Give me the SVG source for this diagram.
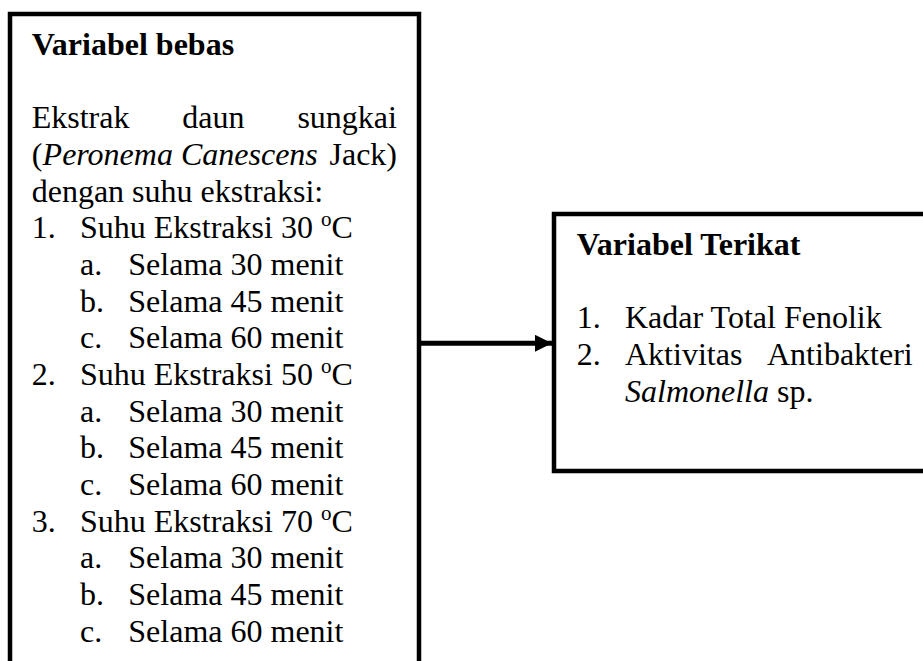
<svg xmlns="http://www.w3.org/2000/svg" width="923" height="661" viewBox="0 0 923 661">
<style>
.t{font-family:"Liberation Serif","Times New Roman",serif;font-size:32px;fill:#000}
.b{font-weight:bold}
.i{font-style:italic}
.sup{font-size:21px}
.box{fill:none;stroke:#000;stroke-width:4.5}
.conn{stroke:#000;stroke-width:5;fill:none}
</style>
<defs>
<marker id="arrow" viewBox="0 0 10 10" refX="10" refY="5" markerWidth="3.4" markerHeight="3.4" markerUnits="strokeWidth" orient="auto">
<path d="M0,0 L10,5 L0,10 Z" fill="#000"/>
</marker>
</defs>
<rect width="923" height="661" fill="#fff"/>
<g id="node-variabel-bebas">
<path class="box" d="M10,668 V14 H419 V668"/>
<text class="t b" x="31.7" y="55">Variabel bebas</text>
<text class="t" y="128.3"><tspan x="31.7">Ekstrak</tspan><tspan x="182.3">daun</tspan><tspan x="297.4">sungkai</tspan></text>
<text class="t" y="165"><tspan x="31.7">(</tspan><tspan class="i" x="42.6">Peronema Canescens</tspan></text>
<text class="t" x="397" y="165" text-anchor="end">Jack)</text>
<text class="t" x="31.7" y="201.7">dengan suhu ekstraksi:</text>
<text class="t" y="238.3"><tspan x="31.7">1.</tspan><tspan x="80">Suhu Ekstraksi 30 </tspan><tspan class="sup" dy="-12">o</tspan><tspan dy="12">C</tspan></text>
<text class="t" y="275"><tspan x="80">a.</tspan><tspan x="128.3">Selama 30 menit</tspan></text>
<text class="t" y="311.7"><tspan x="80">b.</tspan><tspan x="128.3">Selama 45 menit</tspan></text>
<text class="t" y="348.3"><tspan x="80">c.</tspan><tspan x="128.3">Selama 60 menit</tspan></text>
<text class="t" y="385"><tspan x="31.7">2.</tspan><tspan x="80">Suhu Ekstraksi 50 </tspan><tspan class="sup" dy="-12">o</tspan><tspan dy="12">C</tspan></text>
<text class="t" y="421.7"><tspan x="80">a.</tspan><tspan x="128.3">Selama 30 menit</tspan></text>
<text class="t" y="458.3"><tspan x="80">b.</tspan><tspan x="128.3">Selama 45 menit</tspan></text>
<text class="t" y="495"><tspan x="80">c.</tspan><tspan x="128.3">Selama 60 menit</tspan></text>
<text class="t" y="531.7"><tspan x="31.7">3.</tspan><tspan x="80">Suhu Ekstraksi 70 </tspan><tspan class="sup" dy="-12">o</tspan><tspan dy="12">C</tspan></text>
<text class="t" y="568.3"><tspan x="80">a.</tspan><tspan x="128.3">Selama 30 menit</tspan></text>
<text class="t" y="605"><tspan x="80">b.</tspan><tspan x="128.3">Selama 45 menit</tspan></text>
<text class="t" y="641.7"><tspan x="80">c.</tspan><tspan x="128.3">Selama 60 menit</tspan></text>
</g>
<g id="node-variabel-terikat">
<path class="box" d="M930,214 H554 V471 H930"/>
<text class="t b" x="576.7" y="255">Variabel Terikat</text>
<text class="t" y="328.3"><tspan x="576.7">1.</tspan><tspan x="625">Kadar Total Fenolik</tspan></text>
<text class="t" y="365"><tspan x="576.7">2.</tspan><tspan x="625">Aktivitas</tspan><tspan x="767">Antibakteri</tspan></text>
<text class="t" x="625" y="401.7"><tspan class="i">Salmonella</tspan> sp.</text>
</g>
<g id="connectors">
<line class="conn" x1="421" y1="343.3" x2="552" y2="343.3" marker-end="url(#arrow)"/>
</g>
</svg>
